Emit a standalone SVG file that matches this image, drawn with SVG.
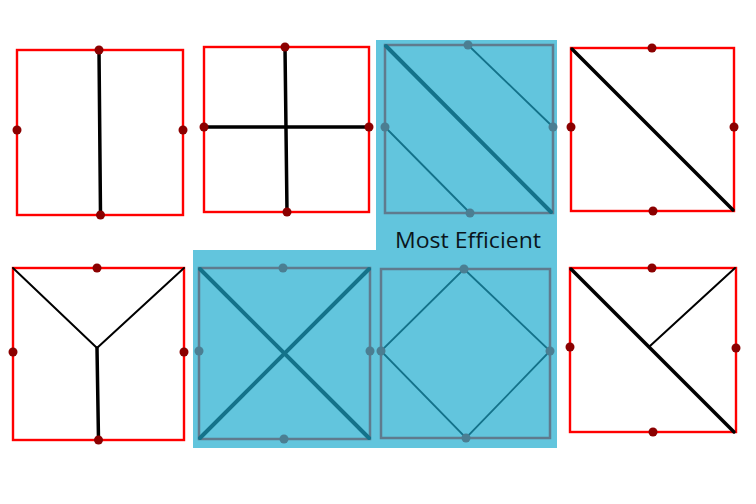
<svg xmlns="http://www.w3.org/2000/svg" width="756" height="504" viewBox="0 0 756 504">
<style>
.bg{fill:#ffffff}
.hl{fill:#62c5dd;stroke:none}
.rbox{fill:none;stroke:#ff0000;stroke-width:2.4}
.bbox{fill:none;stroke:#5f7b8e;stroke-width:2.5}
.k{stroke:#000;stroke-width:3.5;stroke-linecap:round;fill:none}
.kt{stroke:#000;stroke-width:2;stroke-linecap:round;fill:none}
.t{stroke:#14728a;stroke-width:4;stroke-linecap:round;fill:none}
.tt{stroke:#14728a;stroke-width:1.8;stroke-linecap:round;fill:none}
.rd{fill:#8b0000}
.bd{fill:#4b7e92}
.lbl{font-family:"Open Sans","Noto Sans",sans-serif;font-size:21.5px;fill:#0a161c}
</style>
<rect class="bg" x="0" y="0" width="756" height="504"/>
<g id="highlight">
<path class="hl" d="M376,40 H557 V448 H193 V250 H376 Z"/>
<text class="lbl" x="395" y="248" textLength="146" lengthAdjust="spacingAndGlyphs">Most Efficient</text>
</g>
<g id="n1">
<rect class="rbox" x="17" y="50" width="166" height="165"/>
<line class="k" x1="99" y1="50" x2="100.5" y2="215"/>
<circle class="rd" cx="99" cy="50" r="4.5"/><circle class="rd" cx="100.5" cy="215" r="4.5"/>
<circle class="rd" cx="17" cy="130" r="4.5"/><circle class="rd" cx="183" cy="130" r="4.5"/>
</g>
<g id="n2">
<rect class="rbox" x="204" y="47" width="165" height="165"/>
<line class="k" x1="285" y1="47" x2="287" y2="212"/>
<line class="k" x1="204" y1="127" x2="369" y2="127"/>
<circle class="rd" cx="285" cy="47" r="4.5"/><circle class="rd" cx="287" cy="212" r="4.5"/>
<circle class="rd" cx="204" cy="127" r="4.5"/><circle class="rd" cx="369" cy="127" r="4.5"/>
</g>
<g id="n3">
<rect class="bbox" x="385" y="45" width="168" height="168"/>
<line class="t" x1="386" y1="46" x2="551" y2="212"/>
<line class="tt" x1="468" y1="45" x2="553" y2="127"/>
<line class="tt" x1="385" y1="127" x2="470" y2="213"/>
<circle class="bd" cx="468" cy="45" r="4.5"/><circle class="bd" cx="553" cy="127" r="4.5"/>
<circle class="bd" cx="385" cy="127" r="4.5"/><circle class="bd" cx="470" cy="213" r="4.5"/>
</g>
<g id="n4">
<rect class="rbox" x="571" y="48" width="163" height="163"/>
<line class="k" x1="572" y1="49" x2="733" y2="210"/>
<circle class="rd" cx="652" cy="48" r="4.5"/><circle class="rd" cx="653" cy="211" r="4.5"/>
<circle class="rd" cx="571" cy="127" r="4.5"/><circle class="rd" cx="734" cy="127" r="4.5"/>
</g>
<g id="n5">
<rect class="rbox" x="13" y="268" width="171" height="172"/>
<line class="kt" x1="13" y1="268" x2="97" y2="348"/>
<line class="kt" x1="184" y1="268" x2="97" y2="348"/>
<line class="k" x1="97" y1="348" x2="98.5" y2="440"/>
<circle class="rd" cx="97" cy="268" r="4.5"/><circle class="rd" cx="98.5" cy="440" r="4.5"/>
<circle class="rd" cx="13" cy="352" r="4.5"/><circle class="rd" cx="184" cy="352" r="4.5"/>
</g>
<g id="n6">
<rect class="bbox" x="199" y="268" width="171" height="171"/>
<line class="t" x1="200" y1="269" x2="369" y2="438"/>
<line class="t" x1="369" y1="269" x2="200" y2="438"/>
<circle class="bd" cx="283" cy="268" r="4.5"/><circle class="bd" cx="284" cy="439" r="4.5"/>
<circle class="bd" cx="199" cy="351" r="4.5"/><circle class="bd" cx="370" cy="351" r="4.5"/>
</g>
<g id="n7">
<rect class="bbox" x="381" y="269" width="169" height="169"/>
<path class="tt" d="M464,269 L550,351 L466,438 L381,351 Z"/>
<circle class="bd" cx="464" cy="269" r="4.5"/><circle class="bd" cx="466" cy="438" r="4.5"/>
<circle class="bd" cx="381" cy="351" r="4.5"/><circle class="bd" cx="550" cy="351" r="4.5"/>
</g>
<g id="n8">
<rect class="rbox" x="570" y="268" width="166" height="164"/>
<line class="k" x1="571" y1="269" x2="734" y2="432"/>
<line class="kt" x1="735" y1="268" x2="650" y2="346"/>
<circle class="rd" cx="652" cy="268" r="4.5"/><circle class="rd" cx="653" cy="432" r="4.5"/>
<circle class="rd" cx="570" cy="347" r="4.5"/><circle class="rd" cx="736" cy="348" r="4.5"/>
</g>
</svg>
